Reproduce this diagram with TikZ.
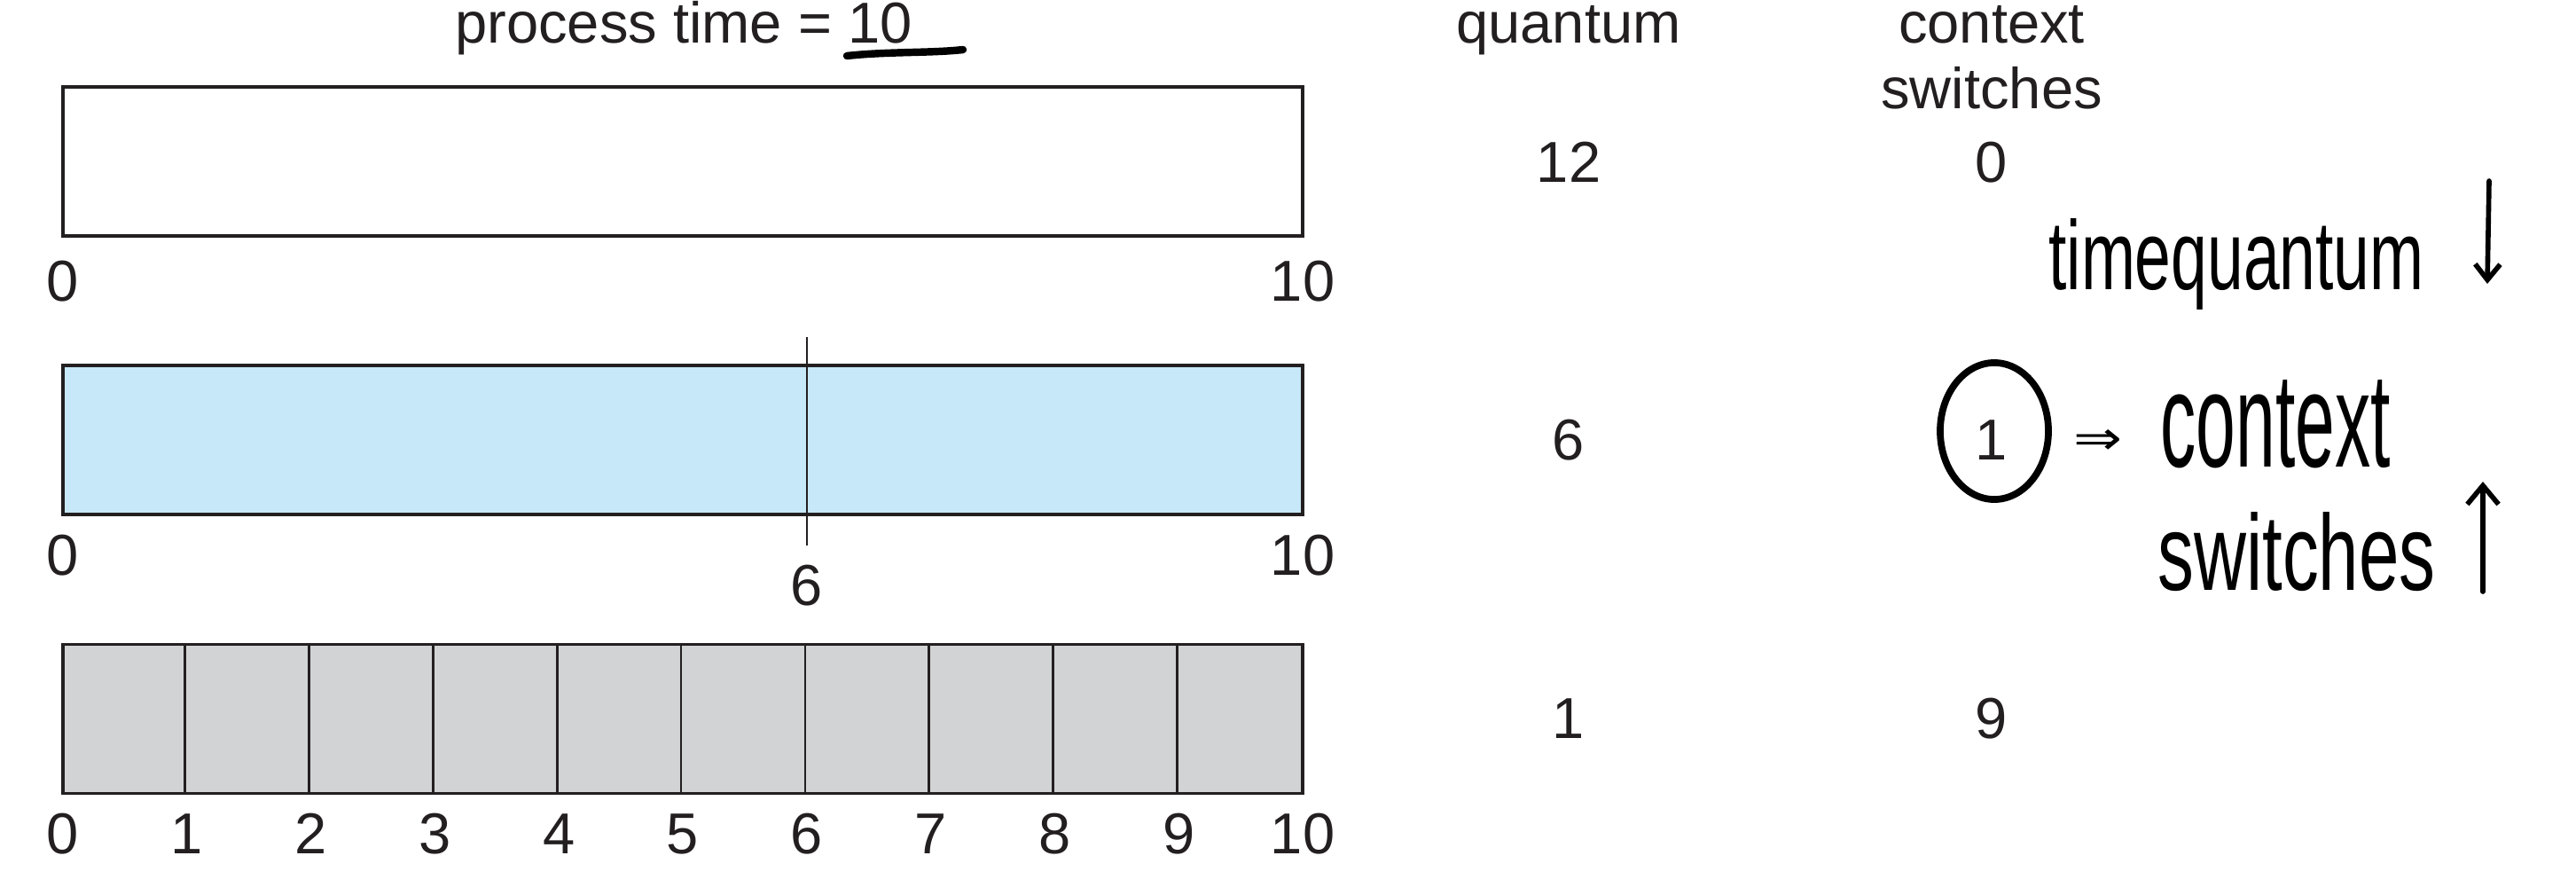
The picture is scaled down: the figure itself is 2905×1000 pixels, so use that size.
\documentclass[tikz,border=0pt]{standalone}
\usepackage{fontspec}
\usepackage{graphicx}
\setmainfont{Liberation Sans}
\newfontfamily\symfont{DejaVu Sans}
\usetikzlibrary{arrows.meta,shapes.geometric}
\definecolor{ink}{HTML}{231F20}
\definecolor{barblue}{HTML}{C7E8F8}
\definecolor{bargray}{HTML}{D1D3D4}
\tikzset{
  lbl/.style={font=\fontsize{18.5}{22}\selectfont, text=ink, inner sep=0, anchor=base},
  bar/.style={draw=ink, line width=1.1pt, minimum width=13.98cm, minimum height=1.68cm, inner sep=0},
  divider/.style={draw=ink, line width=0.8pt},
  hand/.style={inner sep=0, text=black},
  handline/.style={draw=black, line width=1.6pt, line cap=round, line join=round},
}
\begin{document}
\begin{tikzpicture}[x=0.01cm, y=-0.01cm]
\useasboundingbox (0,0) rectangle (2905,1000);
% headers
\node[lbl] (title) at (771,48) {process time = 10};
\coordinate (ulA) at (955,63);
\coordinate (ulB) at (1086,56);
\draw[black, line width=2.4pt, line cap=round] (ulA) .. controls (1000,58) and (1050,60) .. (ulB);
\node[lbl] (hq) at (1769,48) {quantum};
\node[lbl] (hc1) at (2246,48) {context};
\node[lbl] (hc2) at (2246,122) {switches};
% row 1
\node[bar, fill=white] (b1) at (770,182) {};
\node[lbl] (r1a) at (71,339) {0};
\node[lbl] (r1b) at (1469,339) {10};
\node[lbl] (q1) at (1769,205) {12};
\node[lbl] (c1) at (2246,205) {0};
% row 2
\node[bar, fill=barblue] (b2) at (770,496) {};
\coordinate (v6t) at (910,380);
\coordinate (v6b) at (910,615);
\draw[divider] (v6t) -- (v6b);
\node[lbl] (r2a) at (71,648) {0};
\node[lbl] (r2b) at (1469,648) {10};
\node[lbl] (r2c) at (910,682) {6};
\node[lbl] (q2) at (1769,518) {6};
\node[lbl] (c2) at (2246,518) {1};
% row 3
\node[bar, fill=bargray] (b3) at (770,810.5) {};
\foreach \i in {1,...,9} {
  \draw[divider] ([xshift=\i*1.398cm]b3.north west) -- ([xshift=\i*1.398cm]b3.south west);
}
\foreach \i in {0,...,10} {
  \node[lbl] (r3\i) at (71+\i*139.8,962) {\i};
}
\node[lbl] (q3) at (1769,832) {1};
\node[lbl] (c3) at (2246,832) {9};
% handwritten notes
\node[hand] (tq) at (2522,298) {\resizebox{4.23cm}{0.8cm}{timequantum}};
\coordinate (dA) at (2807,204);
\coordinate (dB) at (2805,320);
\draw[handline, -{Straight Barb[length=5pt,width=8pt]}] (dA) -- (dB);
\node[draw=black, line width=2.2pt, ellipse, minimum width=1.22cm, minimum height=1.54cm, inner sep=0] (circ) at (2249,486) {};
\node[hand, font=\symfont] (imp) at (2366,498) {\resizebox{0.55cm}{0.28cm}{⇒}};
\node[hand] (ctx) at (2566,478) {\resizebox{2.59cm}{0.98cm}{context}};
\node[hand] (sw) at (2590,622) {\resizebox{3.13cm}{0.88cm}{switches}};
\coordinate (uA) at (2800,667);
\coordinate (uB) at (2800,543);
\draw[handline, -{Straight Barb[length=6pt,width=10pt]}] (uA) -- (uB);
\end{tikzpicture}
\end{document}
